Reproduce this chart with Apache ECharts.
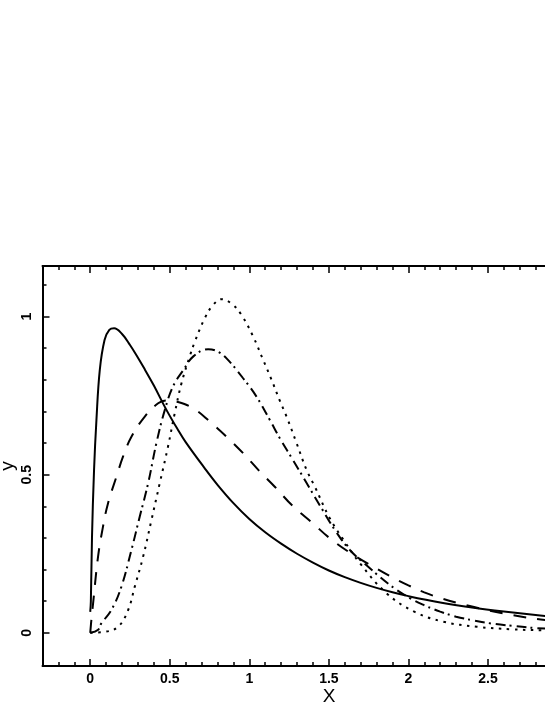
<!DOCTYPE html>
<html>
<head>
<meta charset="utf-8">
<script src="https://cdn.jsdelivr.net/npm/echarts@6/dist/echarts.min.js"></script>
<style>
  html, body { margin: 0; padding: 0; background: #fff; }
  #chart { width: 545px; height: 705px; }
</style>
</head>
<body>
<div id="chart"></div>
<script>
// curve samples
const solidX = [0, 0.004, 0.011, 0.024, 0.039, 0.06, 0.09, 0.12, 0.15, 0.2, 0.25, 0.3, 0.343, 0.4, 0.479, 0.55, 0.6, 0.72, 0.8, 0.9, 1.0, 1.1, 1.2, 1.3, 1.4, 1.5, 1.6, 1.7, 1.8, 1.9, 2.0, 2.2, 2.4, 2.6, 2.8, 3.0]
const solidY = [0.066, 0.1, 0.30, 0.515, 0.673, 0.831, 0.926, 0.958, 0.963, 0.945, 0.91, 0.87, 0.833, 0.782, 0.705, 0.643, 0.603, 0.52, 0.468, 0.41, 0.36, 0.318, 0.282, 0.25, 0.222, 0.197, 0.176, 0.158, 0.142, 0.128, 0.116, 0.096, 0.08, 0.067, 0.056, 0.047]

const dashX = [0, 0.008, 0.018, 0.049, 0.08, 0.112, 0.165, 0.206, 0.259, 0.343, 0.427, 0.48, 0.55, 0.647, 0.752, 0.857, 0.961, 1.066, 1.16, 1.275, 1.4, 1.506, 1.643, 1.8, 1.9, 2.0, 2.1, 2.2, 2.32, 2.5, 2.62, 2.8, 3.0]
const dashY = [0, 0.045, 0.093, 0.24, 0.335, 0.41, 0.494, 0.557, 0.62, 0.684, 0.726, 0.735, 0.73, 0.71, 0.668, 0.62, 0.568, 0.51, 0.462, 0.40, 0.346, 0.299, 0.25, 0.203, 0.175, 0.15, 0.128, 0.11, 0.093, 0.071, 0.059, 0.044, 0.032]

const dashDotX = [0, 0.05, 0.07, 0.133, 0.196, 0.259, 0.311, 0.364, 0.416, 0.469, 0.521, 0.584, 0.65, 0.741, 0.8, 0.857, 0.961, 1.045, 1.129, 1.192, 1.275, 1.349, 1.454, 1.538, 1.632, 1.758, 1.884, 2.0, 2.1, 2.2, 2.3, 2.4, 2.5, 2.65, 2.8, 3.0]
const dashDotY = [0, 0.01, 0.03, 0.072, 0.146, 0.262, 0.367, 0.473, 0.60, 0.705, 0.78, 0.83, 0.875, 0.897, 0.89, 0.868, 0.805, 0.747, 0.673, 0.615, 0.546, 0.483, 0.394, 0.325, 0.262, 0.204, 0.151, 0.112, 0.087, 0.067, 0.051, 0.04, 0.031, 0.022, 0.015, 0.01]

const dotX = [0, 0.091, 0.175, 0.238, 0.28, 0.332, 0.385, 0.437, 0.489, 0.531, 0.574, 0.626, 0.657, 0.72, 0.77, 0.825, 0.89, 0.951, 1.024, 1.087, 1.14, 1.19, 1.234, 1.297, 1.36, 1.412, 1.506, 1.6, 1.695, 1.863, 2.04, 2.22, 2.43, 2.65, 2.83, 3.0]
const dotY = [0, 0.003, 0.019, 0.072, 0.146, 0.24, 0.357, 0.473, 0.589, 0.694, 0.79, 0.875, 0.92, 0.995, 1.035, 1.055, 1.04, 1.005, 0.937, 0.863, 0.80, 0.736, 0.684, 0.60, 0.515, 0.462, 0.362, 0.288, 0.22, 0.125, 0.066, 0.035, 0.019, 0.011, 0.008, 0.006]

// ticks
const xMajor = [0, 0.5, 1, 1.5, 2, 2.5]
const xMinor = [-0.2, -0.1, 0.1, 0.2, 0.3, 0.4, 0.6, 0.7, 0.8, 0.9, 1.1, 1.2, 1.3, 1.4, 1.6, 1.7, 1.8, 1.9, 2.1, 2.2, 2.3, 2.4, 2.6, 2.7, 2.8, 2.9]
const yMajor = [0, 0.5, 1]
const yMinor = [0.1, 0.2, 0.3, 0.4, 0.6, 0.7, 0.8, 0.9, 1.1]

const zip = (xs, ys) => xs.map((x, i) => [x, ys[i]])

const labelFont = { color: '#000', fontFamily: 'Liberation Sans', fontWeight: 'bold', fontSize: 14 }

const xAxisBase = (pos, major, showLine, showLabel) => ({
  type: 'value',
  position: pos,
  min: -0.3,
  max: 3,
  splitLine: { show: false },
  axisLine: { show: showLine, onZero: false, lineStyle: { color: '#000', width: 2 } },
  axisTick: {
    inside: true,
    length: major ? 7 : 4,
    customValues: major ? xMajor : xMinor,
    lineStyle: { color: '#000', width: 1.5 }
  },
  axisLabel: showLabel ? {
    show: true,
    customValues: xMajor,
    margin: 6,
    formatter: v => String(v),
    ...labelFont
  } : { show: false }
})

const yAxisBase = (major, showLine, showLabel) => ({
  type: 'value',
  position: 'left',
  min: -0.105,
  max: 1.16,
  splitLine: { show: false },
  axisLine: { show: showLine, onZero: false, lineStyle: { color: '#000', width: 2 } },
  axisTick: {
    inside: true,
    length: major ? 7 : 4,
    customValues: major ? yMajor : yMinor,
    lineStyle: { color: '#000', width: 1.5 }
  },
  axisLabel: showLabel ? {
    show: true,
    customValues: yMajor,
    rotate: 90,
    margin: 8,
    formatter: v => String(v),
    ...labelFont
  } : { show: false },
  name: showLabel ? 'y' : '',
  nameLocation: 'middle',
  nameRotate: 90,
  nameGap: 25,
  nameMoveOverlap: false,
  nameTextStyle: { fontFamily: 'Liberation Sans', fontSize: 19, color: '#000' }
})

const lineSeries = (data, type) => ({
  type: 'line',
  data: data,
  showSymbol: false,
  smooth: 0.4,
  animation: false,
  lineStyle: { color: '#000', width: 2, type: type }
})

const chart = echarts.init(document.getElementById('chart'))
chart.setOption({
  animation: false,
  backgroundColor: '#fff',
  grid: { left: 42.5, top: 266, right: -22.5, bottom: 39, containLabel: false, outerBoundsMode: 'none' },
  xAxis: [
    xAxisBase('bottom', true, true, true),
    xAxisBase('bottom', false, false, false),
    xAxisBase('top', true, true, false),
    xAxisBase('top', false, false, false)
  ],
  yAxis: [
    yAxisBase(true, true, true),
    yAxisBase(false, false, false)
  ],
  graphic: [{
    type: 'text',
    x: 329,
    y: 697,
    style: { text: 'X', x: 0, y: 0, align: 'center', verticalAlign: 'middle', fontFamily: 'Liberation Sans', fontSize: 19, fill: '#000' }
  }],
  series: [
    lineSeries(zip(solidX, solidY), 'solid'),
    lineSeries(zip(dashX, dashY), [13, 11]),
    lineSeries(zip(dashDotX, dashDotY), [10, 4, 2, 5]),
    lineSeries(zip(dotX, dotY), [2.5, 5.5])
  ]
})
</script>
</body>
</html>
